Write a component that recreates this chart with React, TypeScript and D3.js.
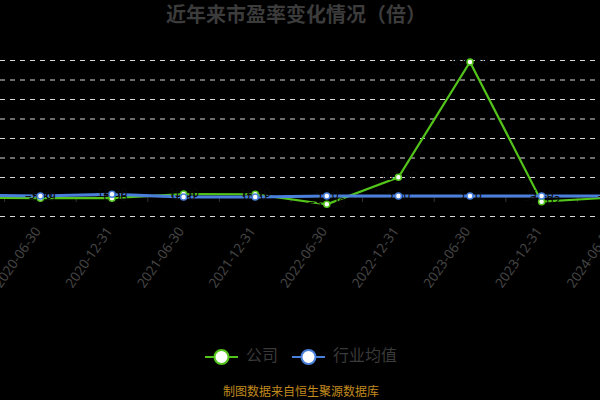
import { useMemo } from "react";
import * as d3 from "d3";

const WIDTH = 600;
const HEIGHT = 400;
// plot area is wider than the picture: the first and last categories fall outside
const GRID = { left: -67, right: 649, top: 60.5, bottom: 216.5 };
const FONT = "'Noto Sans', 'Noto Sans CJK SC', sans-serif";
const CJK = "'Noto Sans CJK SC', sans-serif";

const GREEN = "#52c41a";
const BLUE = "#4a80dc";

const categories = [
  "2019-12-31",
  "2020-06-30",
  "2020-12-31",
  "2021-06-30",
  "2021-12-31",
  "2022-06-30",
  "2022-12-31",
  "2023-06-30",
  "2023-12-31",
  "2024-06-30",
];
const companyPE = [-4.1, -5.89, -6.06, 15.3, 14.1, -37.2, 101.3, 692.4, -24.02, -2.3];
const industryPE = [10.2, 5.6, 14.3, 0.4, 0.2, 5.1, 5.3, 5.2, 5.4, 5.5];
const yTicks = [-100, 0, 100, 200, 300, 400, 500, 600, 700];

const series = [
  { name: "公司", values: companyPE, color: GREEN, width: 2.2 },
  { name: "行业均值", values: industryPE, color: BLUE, width: 3 },
];

export default function App() {
  const xScale = useMemo(
    () => d3.scaleBand<string>().domain(categories).range([GRID.left, GRID.right]).padding(0),
    []
  );
  const yScale = useMemo(
    () => d3.scaleLinear().domain([-100, 700]).range([GRID.bottom, GRID.top]),
    []
  );
  const cx = (c: string) => (xScale(c) ?? 0) + xScale.bandwidth() / 2;

  const line = d3
    .line<number>()
    .x((_, i) => cx(categories[i]))
    .y((d) => yScale(d));

  const fmt = d3.format(".2f");

  return (
    <svg
      width={WIDTH}
      height={HEIGHT}
      style={{ position: "fixed", left: 0, top: 0, background: "#000" }}
    >
      <rect width={WIDTH} height={HEIGHT} fill="#000" />

      {/* Title */}
      <text
        x={296}
        y={22}
        textAnchor="middle"
        fontFamily={CJK}
        fontSize={20}
        fontWeight="bold"
        fill="#3c3c3c"
      >
        近年来市盈率变化情况（倍）
      </text>

      {/* Grid lines */}
      {yTicks
        .filter((t) => t !== 0)
        .map((t) => (
          <line
            key={t}
            x1={0}
            x2={WIDTH}
            y1={yScale(t)}
            y2={yScale(t)}
            stroke="#d8d8d8"
            strokeWidth={1}
            strokeDasharray="5 5"
          />
        ))}

      {/* x axis */}
      <line x1={0} x2={WIDTH} y1={yScale(0)} y2={yScale(0)} stroke="#333" />
      {categories.map((c) => (
        <line
          key={c}
          x1={xScale(c)}
          x2={xScale(c)}
          y1={yScale(0)}
          y2={yScale(0) + 5}
          stroke="#333"
        />
      ))}
      {categories.map((c) => (
        <text
          key={c}
          transform={`translate(${cx(c) - 2},${yScale(0) + 32}) rotate(-55)`}
          textAnchor="end"
          dominantBaseline="middle"
          fontFamily={FONT}
          fontSize={13.5}
          fill="#444"
        >
          {c}
        </text>
      ))}

      {/* Lines */}
      {series.map((s) => (
        <path
          key={s.name}
          d={line(s.values) ?? ""}
          fill="none"
          stroke={s.color}
          strokeWidth={s.width}
        />
      ))}

      {/* Value labels (dark, nearly hidden) */}
      {series.map((s) =>
        s.values.map((v, i) => (
          <text
            key={`${s.name}-${i}`}
            x={cx(categories[i])}
            y={yScale(v)}
            textAnchor="middle"
            dominantBaseline="middle"
            fontFamily={FONT}
            fontSize={12}
            fill="#080808"
          >
            {fmt(v)}
          </text>
        ))
      )}

      {/* Markers */}
      {series.map((s) =>
        s.values.map((v, i) => (
          <circle
            key={`${s.name}-m-${i}`}
            cx={cx(categories[i])}
            cy={yScale(v)}
            r={3}
            fill="#fff"
            stroke={s.color}
            strokeWidth={1.5}
          />
        ))
      )}

      {/* Legend */}
      {series.map((s, i) => {
        const x0 = i === 0 ? 205 : 292;
        return (
          <g key={s.name} transform={`translate(${x0},357)`}>
            <line x1={0} x2={33} y1={0} y2={0} stroke={s.color} strokeWidth={2} />
            <circle cx={16.5} cy={0} r={7} fill="#fff" stroke={s.color} strokeWidth={2} />
            <text
              x={41}
              y={0}
              dominantBaseline="middle"
              fontFamily={CJK}
              fontSize={16}
              fill="#3a3a3a"
            >
              {s.name}
            </text>
          </g>
        );
      })}

      {/* Source */}
      <text
        x={301}
        y={393}
        textAnchor="middle"
        dominantBaseline="middle"
        fontFamily={CJK}
        fontSize={12}
        fill="#c08a1e"
      >
        制图数据来自恒生聚源数据库
      </text>
    </svg>
  );
}
